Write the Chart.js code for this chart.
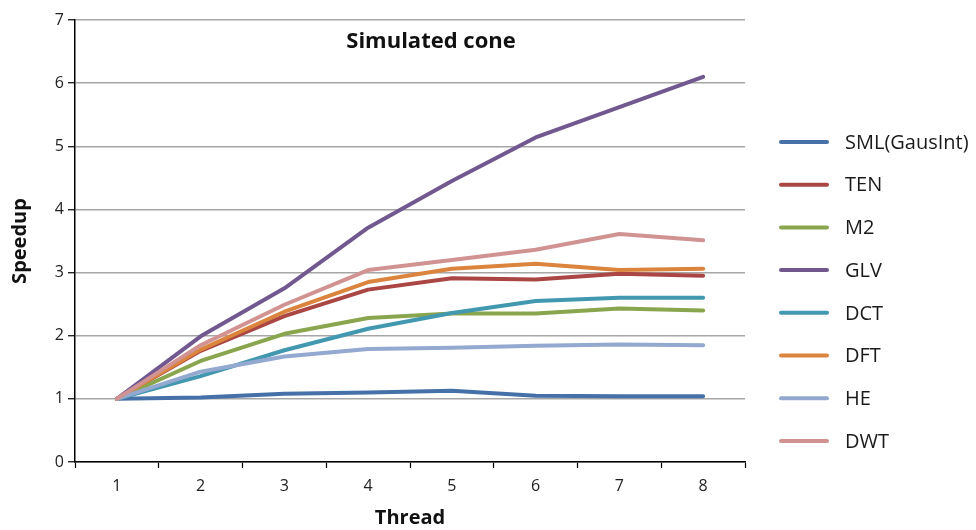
<!DOCTYPE html>
<html>
<head>
<meta charset="utf-8">
<script src="https://cdn.jsdelivr.net/npm/chart.js@4.4.0/dist/chart.umd.min.js"></script>
<style>
  html, body { margin: 0; padding: 0; background: #fff; }
  #wrap { width: 976px; height: 530px; position: relative; }
</style>
</head>
<body>
<div id="wrap"><canvas id="speedupChart" width="976" height="530"></canvas></div>
<script>
// --- Data ---
const threads = ['1', '2', '3', '4', '5', '6', '7', '8'];
const yTicks = [0, 1, 2, 3, 4, 5, 6, 7];

const sml = [1.00, 1.02, 1.08, 1.10, 1.13, 1.05, 1.04, 1.04];
const ten = [1.00, 1.76, 2.31, 2.73, 2.91, 2.89, 2.98, 2.95];
const m2  = [1.00, 1.60, 2.03, 2.28, 2.35, 2.35, 2.43, 2.40];
const glv = [1.00, 1.99, 2.75, 3.71, 4.45, 5.14, 5.62, 6.10];
const dct = [1.00, 1.36, 1.77, 2.11, 2.36, 2.55, 2.60, 2.60];
const dft = [1.00, 1.78, 2.38, 2.85, 3.06, 3.14, 3.04, 3.06];
const he  = [1.00, 1.43, 1.67, 1.79, 1.81, 1.84, 1.86, 1.85];
const dwt = [1.00, 1.85, 2.49, 3.04, 3.20, 3.36, 3.61, 3.51];

const seriesNames  = ['SML(GausInt)', 'TEN', 'M2', 'GLV', 'DCT', 'DFT', 'HE', 'DWT'];
const seriesValues = [sml, ten, m2, glv, dct, dft, he, dwt];
const seriesColors = ['#4571A8', '#AA4643', '#89A54E', '#71588F', '#4198AF', '#DB843D', '#93A9CF', '#D19392'];

const FONT = '"Open Sans", "Noto Sans", sans-serif';

// --- Plugins: chart title inside plot + legend on the right ---
const innerTitle = {
    id: 'innerTitle',
    afterDraw(chart) {
        const { ctx } = chart;
        ctx.save();
        ctx.font = 'bold 22px ' + FONT;
        ctx.fillStyle = '#111';
        ctx.textAlign = 'center';
        ctx.textBaseline = 'middle';
        ctx.fillText('Simulated cone', 431, 42);
        ctx.restore();
    }
};

const sideLegend = {
    id: 'sideLegend',
    afterDraw(chart) {
        const { ctx } = chart;
        ctx.save();
        ctx.font = '20px ' + FONT;
        ctx.textBaseline = 'middle';
        ctx.lineCap = 'round';
        chart.data.datasets.forEach((ds, i) => {
            const y = 142 + i * 42.7;
            ctx.strokeStyle = ds.borderColor;
            ctx.lineWidth = 4;
            ctx.beginPath();
            ctx.moveTo(781, y);
            ctx.lineTo(827, y);
            ctx.stroke();
            ctx.fillStyle = '#1a1a1a';
            ctx.fillText(ds.label, 845, y + 1);
        });
        ctx.restore();
    }
};

const datasets = seriesNames.map((name, i) => ({
    label: name,
    data: seriesValues[i],
    borderColor: seriesColors[i],
    backgroundColor: seriesColors[i],
    borderWidth: 4,
    borderCapStyle: 'round',
    borderJoinStyle: 'round',
    pointRadius: 0,
    tension: 0,
    fill: false,
    order: seriesNames.length - i
}));

new Chart(document.getElementById('speedupChart').getContext('2d'), {
    type: 'line',
    data: { labels: threads, datasets: datasets },
    options: {
        responsive: false,
        animation: false,
        layout: { padding: { left: 0, top: 20, right: 231, bottom: 0 } },
        plugins: { legend: { display: false }, tooltip: { enabled: false }, title: { display: false } },
        scales: {
            x: {
                offset: true,
                grid: { drawOnChartArea: false, drawTicks: true, tickLength: 6, offset: true, color: '#000', tickWidth: 1.2 },
                border: { color: '#000', width: 1.5 },
                ticks: { color: '#222', font: { family: FONT, size: 16 }, padding: 9 },
                title: { display: true, text: 'Thread', color: '#111', font: { family: FONT, size: 20, weight: 'bold' }, padding: { top: 0, bottom: 0 } },
                afterFit(scale) { scale.height = 68; }
            },
            y: {
                min: 0,
                max: 7,
                afterBuildTicks(scale) { scale.ticks = yTicks.map(v => ({ value: v })); },
                grid: { color: '#a6a6a6', lineWidth: 1.5, tickLength: 7, tickColor: '#000', tickWidth: 1.2 },
                border: { color: '#000', width: 1.5 },
                ticks: { color: '#222', font: { family: FONT, size: 16 }, padding: 4 },
                title: { display: true, text: 'Speedup', color: '#111', font: { family: FONT, size: 20, weight: 'bold' }, padding: { top: 8, bottom: 0 } },
                afterFit(scale) { scale.width = 75; }
            }
        }
    },
    plugins: [innerTitle, sideLegend]
});
</script>
</body>
</html>
